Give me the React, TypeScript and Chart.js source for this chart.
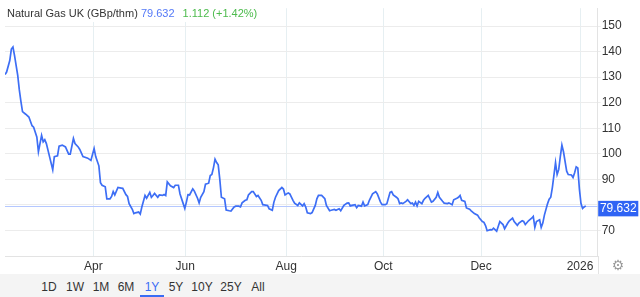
import React, { useEffect, useRef } from "react";
import { Chart, registerables } from "chart.js";

Chart.register(...registerables);

const days = [0,1,3,4,5,6,8,9,10,11,13,15,17,18,20,21,23,24,25,26,28,30,31,33,34,36,38,40,41,43,44,46,47,49,52,54,56,57,59,60,61,63,64,66,67,68,69,71,73,74,76,77,78,80,81,82,84,85,86,88,89,91,92,93,94,96,97,99,100,101,102,104,106,107,109,110,112,113,114,115,116,118,119,121,122,123,125,126,128,129,130,131,132,133,134,135,136,138,139,141,142,144,145,147,148,149,151,152,153,155,156,158,159,161,162,165,166,168,169,170,172,174,175,176,178,179,181,182,184,185,187,188,189,190,192,193,195,196,197,199,201,202,204,205,207,208,210,211,213,215,216,217,218,220,221,222,224,225,226,228,229,231,233,234,236,237,239,240,242,243,244,246,247,248,249,250,252,253,255,256,257,258,259,260,262,263,264,266,268,269,271,272,273,275,276,278,279,281,282,284,285,286,287,289,290,292,293,295,297,298,300,301,302,303,305,306,307,309,311,312,313,314,316,317,319,320,322,323,325,326,327,329,331,332,333,334,336,337,338,339,341,342,343,344,346,347,348,349,350,351,353,354,356,357,358,359,360,361,362,363,364,365];

const prices = [131,132,136.5,141,141.8,138.4,130.7,125,120.5,116.5,115.5,114.4,111,110.4,106.6,100.8,107.2,104.7,105.5,104,98.9,93.8,98.9,99.2,103,103.4,102.7,99.9,99.9,106,104,102.7,101.7,98.9,98.3,97.4,102.1,98.9,95.3,88.7,87.7,87.1,82.4,82.4,83.3,85.2,83.9,86.8,86.6,86.5,84,83.3,80.5,78.3,76.6,76.9,77.2,76.4,79.2,83.7,82.6,84.9,83,83.7,84.5,83,83.9,83.7,84.1,83.7,89,87.5,86.8,87.7,87.7,84.3,80.5,78.6,81.1,84,83.9,86.3,85.4,82.6,80.8,83,85.2,88.1,88.5,91.5,91.9,94.5,97.9,96.6,95.7,90,83,82.4,78,77.7,77.6,79.2,79.5,79.5,79.2,80.8,81.8,82,83.9,85.2,85.2,83.3,83.7,81.8,80.1,79.8,78.5,77.9,81.1,83,85.6,86.8,86.2,83.9,84.7,84.3,81.8,80.7,79.8,80.8,79.6,80.5,79.2,76.9,76.6,77,79.8,82.4,83.7,83.7,82.4,79.8,77.7,77.9,78.2,77.9,78.5,77.7,79.8,80.7,80.8,79.6,79.8,80.1,78.9,79.8,79.5,81.1,79.6,80.1,81.8,84.3,85.2,84.3,81.1,80.1,80.1,80.5,84.9,85.2,83.9,83,82.4,80.5,80.8,80.5,81.4,82,80.5,80.7,79.8,81.1,79.6,81.4,80.5,81.8,82.6,83.7,81.1,81.4,83,84.9,83,81.4,80.7,80.5,80.8,80.1,82,82.6,83,83.7,81.8,81.4,78.8,78.3,77.7,76.6,76,75,73.5,73.2,71.9,69.9,70.3,70.2,70.9,69.7,73.5,72.9,72.3,70.7,72.9,73.8,74.8,73.5,72,72.9,73.8,73.5,72.3,73.8,74.8,75.5,71.2,73.5,74.2,71.2,72.9,76,80.5,82.2,83,86.8,96.6,91.9,93.8,98.9,103.4,100.8,93.2,91.9,91.7,90.7,92.6,94.9,94.5,86.2,80.5,78.6,79.2,79.632];

const tickDays = [55.5, 113.3, 176.7, 237.7, 299.2, 361.4];
const tickLabels = ["Apr", "Jun", "Aug", "Oct", "Dec", "2026"];
const yTicks = [70, 80, 90, 100, 110, 120, 130, 140, 150];
const lastPrice = 79.632;
const changeText = "1.112 (+1.42%)";
const title = "Natural Gas UK (GBp/thm)";
const ranges = ["1D", "1W", "1M", "6M", "1Y", "5Y", "10Y", "25Y", "All"];
const rangeX = [49, 75, 101, 126, 152, 176, 202, 231, 258];
const activeRange = "1Y";

const FONT = '"Liberation Sans", Arial, sans-serif';
const BLUE = "#3d6ef5";

export default function App() {
  const ref = useRef<HTMLCanvasElement | null>(null);

  useEffect(() => {
    const canvas = ref.current;
    if (!canvas) return;
    const overlay = {
      id: "overlay",
      beforeDatasetsDraw(chart: any) {
        const { ctx, chartArea, scales } = chart;
        const py = Math.round(scales.y.getPixelForValue(lastPrice)) + 0.5;
        ctx.save();
        ctx.strokeStyle = "#b5c8ff";
        ctx.lineWidth = 1;
        ctx.beginPath();
        ctx.moveTo(chartArea.left, py);
        ctx.lineTo(chartArea.right, py);
        ctx.stroke();
        ctx.restore();
      },
      afterDraw(chart: any) {
        const { ctx, chartArea, scales } = chart;
        const py = scales.y.getPixelForValue(lastPrice);
        ctx.save();
        ctx.strokeStyle = "#e3e3e3";
        ctx.lineWidth = 1;
        ctx.beginPath();
        ctx.moveTo(Math.round(chartArea.right) + 0.5, chartArea.bottom);
        ctx.lineTo(Math.round(chartArea.right) + 0.5, chart.height);
        ctx.stroke();
        const x0 = chartArea.right + 0.5;
        const w = 640 - 1.7 - x0;
        ctx.fillStyle = "#2f63f4";
        ctx.fillRect(x0, py - 5, w, 15.5);
        ctx.fillStyle = "#ffffff";
        ctx.font = "12px " + FONT;
        ctx.textAlign = "center";
        ctx.textBaseline = "middle";
        ctx.fillText(lastPrice.toFixed(3), x0 + w / 2, py + 3);
        ctx.restore();
      },
    };
    const chart = new Chart(canvas, {
      type: "line",
      data: {
        datasets: [
          {
            data: days.map((d, i) => ({ x: d, y: prices[i] })),
            borderColor: BLUE,
            borderWidth: 1.7,
            pointRadius: 0,
            tension: 0,
          },
        ],
      },
      options: {
        animation: false,
        responsive: false,
        layout: { padding: { left: 5, top: 1, right: 0, bottom: 0 } },
        plugins: { legend: { display: false }, tooltip: { enabled: false } },
        scales: {
          x: {
            type: "linear",
            min: 0,
            max: 372.5,
            afterBuildTicks: (s: any) => {
              s.ticks = tickDays.map((v) => ({ value: v }));
            },
            afterFit: (s: any) => {
              s.height = 18;
            },
            ticks: {
              autoSkip: false,
              maxRotation: 0,
              padding: 3,
              color: "#333",
              font: { family: FONT, size: 12 },
              callback: (_v: any, i: number) => tickLabels[i],
            },
            grid: { color: "#e6eff2", drawTicks: false },
            border: { color: "#e3e3e3" },
          },
          y: {
            type: "linear",
            position: "right",
            min: 60,
            max: 157,
            afterBuildTicks: (s: any) => {
              s.ticks = yTicks.map((v) => ({ value: v }));
            },
            afterFit: (s: any) => {
              s.width = 42.3;
            },
            ticks: {
              padding: 1,
              color: "#333",
              font: { family: FONT, size: 12 },
              callback: (v: any) => (Math.abs(v - lastPrice) < 5 ? "" : String(v)),
            },
            grid: { color: "#ececec", tickLength: 3 },
            border: { color: "#e3e3e3" },
          },
        },
      },
      plugins: [overlay],
    } as any);
    return () => chart.destroy();
  }, []);

  return (
    <div
      style={{
        position: "fixed",
        left: 0,
        top: 0,
        width: 640,
        height: 297,
        background: "#fff",
        fontFamily: FONT,
        overflow: "hidden",
      }}
    >
      <canvas ref={ref} width={640} height={274} style={{ display: "block" }} />
      <div
        style={{
          position: "absolute",
          left: 0,
          top: 5,
          width: 229,
          height: 17,
          paddingLeft: 7,
          background: "#fff",
          fontSize: 11,
          lineHeight: "17px",
          color: "#333",
          whiteSpace: "nowrap",
        }}
      >
        {title} <span style={{ color: "#5479f7" }}>{lastPrice.toFixed(3)}</span>
        <span style={{ color: "#4cbb4c", marginLeft: 8 }}>{changeText}</span>
      </div>
      <div
        style={{
          position: "absolute",
          left: 610,
          top: 256,
          width: 16,
          height: 18,
          lineHeight: "18px",
          textAlign: "center",
          fontFamily: '"DejaVu Sans", sans-serif',
          fontSize: 14,
          color: "#9a9a9a",
        }}
      >
        ⚙
      </div>
      <div
        style={{
          position: "absolute",
          left: 0,
          top: 274,
          width: 640,
          height: 23,
          background: "#f4f4f4",
        }}
      >
        {ranges.map((r, i) => (
          <div
            key={r}
            style={{
              position: "absolute",
              left: rangeX[i] - 15,
              width: 30,
              top: 0,
              height: 23,
              lineHeight: "26px",
              textAlign: "center",
              fontSize: 12,
              color: r === activeRange ? "#3a6cf4" : "#333",
            }}
          >
            {r}
            {r === activeRange ? (
              <div
                style={{
                  position: "absolute",
                  left: 3,
                  right: 3,
                  bottom: 0,
                  height: 2,
                  background: "#3a6cf4",
                }}
              />
            ) : null}
          </div>
        ))}
      </div>
    </div>
  );
}
